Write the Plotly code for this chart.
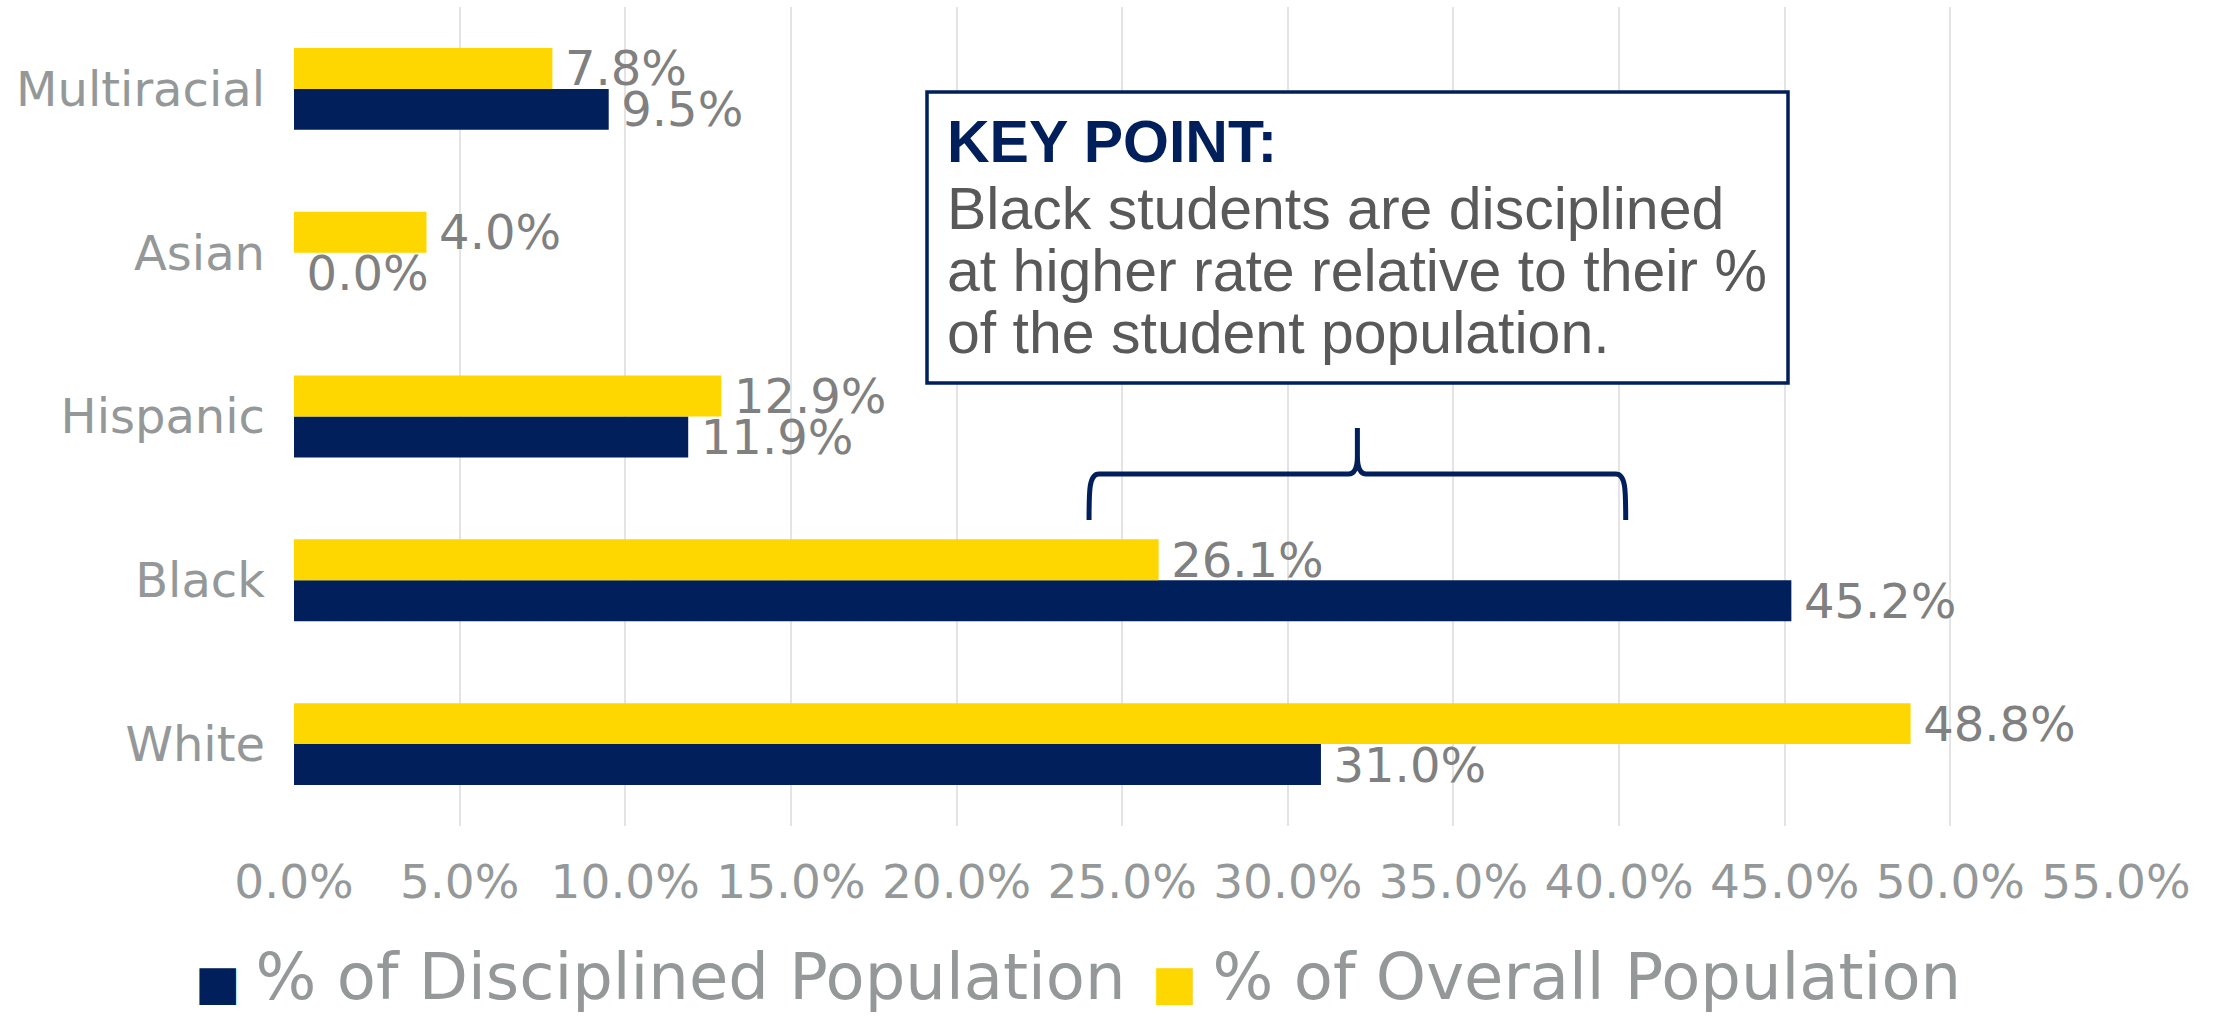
import plotly.graph_objects as go

categories = ["White", "Black", "Hispanic", "Asian", "Multiracial"]
disciplined = [31.0, 45.2, 11.9, 0.0, 9.5]
overall = [48.8, 26.1, 12.9, 4.0, 7.8]
tick_vals = [0, 5, 10, 15, 20, 25, 30, 35, 40, 45, 50, 55]
tick_text = [f"{v:.1f}%" for v in tick_vals]
series_names = ["% of Disciplined Population", "% of Overall Population"]

NAVY = "#001F5B"
YELLOW = "#FED700"
FONT = "DejaVu Sans"
LABEL_GRAY = "#808080"
AXIS_GRAY = "#949899"

fig = go.Figure()
for vals, col in [(disciplined, NAVY), (overall, YELLOW)]:
    fig.add_trace(go.Bar(
        y=categories, x=vals, orientation="h", showlegend=False,
        marker=dict(color=col, line=dict(width=0)),
        texttemplate="\u2009%{x:.1f}%", textposition="outside",
        textfont=dict(family=FONT, size=48, color=LABEL_GRAY),
        constraintext="none", cliponaxis=False,
    ))

# legend entries: big square swatch as part of the entry text
for nm, col in zip(series_names, [NAVY, YELLOW]):
    fig.add_trace(go.Scatter(
        x=[None], y=[None], mode="markers",
        marker=dict(color="rgba(0,0,0,0)", size=2),
        name=f"<span style='color:{col};font-size:48px'>\u25A0\u00a0</span>{nm}",
    ))

W, H = 2223, 1016
L, R, T, B = 294, 107, 7, 190
ph = H - T - B
pw = W - L - R

def py(ypx):
    return (H - B - ypx) / ph

def px(xpx):
    return (xpx - L) / pw

# brace (in data x, paper y)
x1, xm, x2 = 24.0, 32.1, 40.2
yb, yh, yt = py(520), py(474), py(428)
dc = 0.3
dt = 0.27
yh2 = py(456)
brace = (f"M {x1},{yb} C {x1},{py(490)} {x1},{yh} {x1+dc},{yh} "
         f"L {xm-dt},{yh} Q {xm},{yh} {xm},{yh2} L {xm},{yt} "
         f"M {xm},{yh2} Q {xm},{yh} {xm+dt},{yh} "
         f"L {x2-dc},{yh} C {x2},{yh} {x2},{py(490)} {x2},{yb}")

shapes = [
    dict(type="path", xref="x", yref="paper", path=brace,
         line=dict(color=NAVY, width=5)),
    dict(type="rect", xref="paper", yref="paper",
         x0=px(927), x1=px(1788), y0=py(383), y1=py(92),
         line=dict(color=NAVY, width=3.5), fillcolor="white", layer="above"),
]

lines = [
    ("<b>KEY POINT:</b>", NAVY, 142),
    ("Black students are disciplined", "#595959", 209),
    ("at higher rate relative to their %", "#595959", 271),
    ("of the student population.", "#595959", 333),
]
annotations = []
for txt, col, ypx in lines:
    annotations.append(dict(
        text=txt, xref="paper", yref="paper", x=px(945), y=py(ypx),
        xanchor="left", yanchor="middle", showarrow=False,
        font=dict(family="Liberation Sans", size=59, color=col),
    ))

fig.update_layout(
    width=W, height=H,
    margin=dict(l=L, r=R, t=T, b=B, pad=0, autoexpand=False),
    paper_bgcolor="white", plot_bgcolor="white",
    barmode="group", bargap=0.5, bargroupgap=0,
    font=dict(family=FONT, color=AXIS_GRAY),
    xaxis=dict(range=[0, 55], tickvals=tick_vals, ticktext=tick_text,
               showgrid=True, gridcolor="#e4e4e4", gridwidth=1.5,
               zeroline=False, showline=False, ticks="",
               tickfont=dict(family=FONT, size=47, color=AXIS_GRAY),
               ticklabelstandoff=24, fixedrange=True),
    yaxis=dict(categoryorder="array", categoryarray=categories,
               showgrid=False, zeroline=False, showline=False, ticks="",
               tickfont=dict(family=FONT, size=48, color=AXIS_GRAY),
               ticklabelstandoff=28, fixedrange=True),
    legend=dict(orientation="h", x=px(155), xanchor="left",
                y=py(974), yanchor="middle",
                font=dict(family=FONT, size=64, color=AXIS_GRAY),
                traceorder="normal", itemwidth=30, entrywidth=912),
    shapes=shapes,
    annotations=annotations,
)

fig.write_html("out.html")
